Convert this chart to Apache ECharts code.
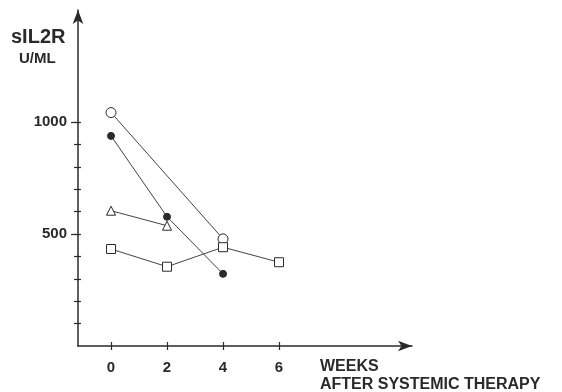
<!DOCTYPE html>
<html><head><meta charset="utf-8">
<script src="https://cdn.jsdelivr.net/npm/echarts@6/dist/echarts.min.js"></script>
<style>html,body{margin:0;padding:0;background:#fff}#c{width:562px;height:392px}</style>
</head><body><div id="c"></div>
<script>
const weeks = [0, 2, 4, 6];
const openCircle = [[0, 1042], [4, 478]];
const filledCircle = [[0, 938], [2, 577], [4, 322]];
const triangle = [[0, 604], [2, 537]];
const square = [[0, 433], [2, 354], [4, 441], [6, 374]];
const yTicks = [100, 200, 300, 400, 500, 600, 700, 800, 900, 1000];
const yLabels = [500, 1000];
const yTitle = 'sIL2R';
const yUnit = 'U/ML';
const xTitle1 = 'WEEKS';
const xTitle2 = 'AFTER SYSTEMIC THERAPY';

const ink = '#2a2a2a';
const font = '"Liberation Sans", Arial, sans-serif';
const chart = echarts.init(document.getElementById('c'));
function s(data, symbol, size, fill) {
  return {
    type: 'line', data, symbol, symbolSize: size, showSymbol: true,
    lineStyle: { color: '#444', width: 1 },
    itemStyle: { color: fill, borderColor: ink, borderWidth: 1 },
    emphasis: { disabled: true }, animation: false, z: 3
  };
}
const xBase = { type: 'value', min: -1.18, max: 10.75, position: 'bottom', splitLine: { show: false } };
const yBase = { type: 'value', min: 0, max: 1500, position: 'left', splitLine: { show: false } };
chart.setOption({
  backgroundColor: '#fff',
  animation: false,
  grid: { left: 78, right: 150, top: 10, bottom: 46, outerBoundsMode: 'none' },
  xAxis: [
    Object.assign({}, xBase, {
      axisLine: { onZero: false, lineStyle: { color: ink, width: 1.5 }, symbol: ['none', 'arrow'], symbolSize: [8, 14] },
      axisTick: { customValues: weeks, length: 4, lineStyle: { color: ink, width: 1.2 } },
      axisLabel: { customValues: weeks, color: ink, fontSize: 15, fontWeight: 'bold', fontFamily: font, margin: 14 }
    }),
    Object.assign({}, xBase, {
      offset: 0,
      axisLine: { show: false, onZero: false },
      axisTick: { customValues: weeks, inside: true, length: 4, lineStyle: { color: ink, width: 1.2 } },
      axisLabel: { show: false }
    })
  ],
  yAxis: [
    Object.assign({}, yBase, {
      axisLine: { onZero: false, lineStyle: { color: ink, width: 1.5 }, symbol: ['none', 'arrow'], symbolSize: [8, 14] },
      axisTick: { customValues: yTicks, length: 4, lineStyle: { color: ink, width: 1.2 } },
      axisLabel: { customValues: yLabels, formatter: v => String(v), color: ink, fontSize: 15, fontWeight: 'bold', fontFamily: font, margin: 11 }
    }),
    Object.assign({}, yBase, {
      offset: 0,
      axisLine: { show: false, onZero: false },
      axisTick: { customValues: yTicks, inside: true, length: 3, lineStyle: { color: ink, width: 1.2 } },
      axisLabel: { show: false }
    }),
    Object.assign({}, yBase, {
      offset: 0,
      axisLine: { show: false, onZero: false },
      axisTick: { customValues: yLabels, length: 7, lineStyle: { color: ink, width: 1.2 } },
      axisLabel: { show: false }
    })
  ],
  graphic: [
    { type: 'text', left: 11, top: 27, style: { text: yTitle, font: 'bold 20px ' + font, fill: ink } },
    { type: 'text', left: 19, top: 51, style: { text: yUnit, font: 'bold 15px ' + font, fill: ink } },
    { type: 'text', left: 320, top: 359, style: { text: xTitle1, font: 'bold 16px ' + font, fill: ink } },
    { type: 'text', left: 320, top: 377, style: { text: xTitle2, font: 'bold 16px ' + font, fill: ink } }
  ],
  series: [
    s(openCircle, 'circle', 10, '#fff'),
    s(filledCircle, 'circle', 7, ink),
    s(triangle, 'triangle', 9, '#fff'),
    s(square, 'rect', 9, '#fff')
  ]
});
</script></body></html>
